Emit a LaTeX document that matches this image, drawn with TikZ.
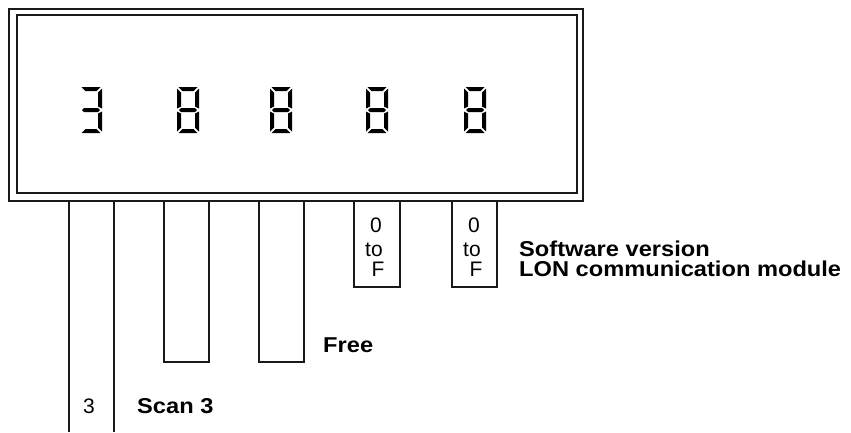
\documentclass[tikz,border=0pt]{standalone}
\usepackage{fontspec}
\setmainfont{Liberation Sans}
\newfontfamily\lblfont[FakeStretch=1.1]{Liberation Sans}
\newcommand\dsegA{\fill (1.5,0) -- (20.5,0) -- (16.5,4) -- (5.5,4) -- cycle;}
\newcommand\dsegB{\fill (22,1.5) -- (22,21.5) -- (18,19.5) -- (18,5.5) -- cycle;}
\newcommand\dsegC{\fill (22,24.5) -- (22,44.5) -- (18,40.5) -- (18,26.5) -- cycle;}
\newcommand\dsegD{\fill (1.5,46) -- (20.5,46) -- (16.5,42) -- (5.5,42) -- cycle;}
\newcommand\dsegE{\fill (0,24.5) -- (0,44.5) -- (4,40.5) -- (4,26.5) -- cycle;}
\newcommand\dsegF{\fill (0,1.5) -- (0,21.5) -- (4,19.5) -- (4,5.5) -- cycle;}
\newcommand\dsegG{\fill (2,23) -- (4,21) -- (18,21) -- (20,23) -- (18,25) -- (4,25) -- cycle;}
\newcommand\sevdigit[2]{\begin{scope}[shift={(#1,87)}]\foreach \s in {#2}{\csname dseg\s\endcsname}\end{scope}}
\begin{document}
\begin{tikzpicture}[x=1pt,y=-1pt,
  frame/.style={draw=black!90,line width=1.6pt},
  leg/.style={draw=black!90,line width=1.3pt},
  reg/.style={font=\fontsize{21}{25}\selectfont,inner sep=0pt,anchor=base,text height=15pt,text depth=0pt},
  lbl/.style={font=\lblfont\bfseries\fontsize{21.5}{25}\selectfont,inner sep=0pt,anchor=base west,text height=15pt,text depth=0pt}]
\useasboundingbox (0,0) rectangle (851,432);
% frames
\draw[frame] (9,9) rectangle (583,201);
\draw[frame] (17,15) rectangle (577,193);
% seven-segment digits
\sevdigit{80}{A,B,C,D,G}
\sevdigit{177}{A,B,C,D,E,F,G}
\sevdigit{270}{A,B,C,D,E,F,G}
\sevdigit{366}{A,B,C,D,E,F,G}
\sevdigit{464}{A,B,C,D,E,F,G}
% legs
\coordinate (l1a) at (69,201); \coordinate (l1b) at (69,432);
\coordinate (l1c) at (114,201); \coordinate (l1d) at (114,432);
\draw[leg] (l1a) -- (l1b);
\draw[leg] (l1c) -- (l1d);
\draw[leg] (164,201) -- (164,362) -- (209,362) -- (209,201);
\draw[leg] (259,201) -- (259,362) -- (304,362) -- (304,201);
\draw[leg] (354,201) -- (354,287) -- (400,287) -- (400,201);
\draw[leg] (452,201) -- (452,287) -- (497,287) -- (497,201);
% texts in boxes
\node[reg] (z1) at (376,232) {0};
\node[reg] (t1) at (374,256) {to};
\node[reg] (f1) at (378,276) {F};
\node[reg] (z2) at (474,232) {0};
\node[reg] (t2) at (472,256) {to};
\node[reg] (f2) at (476,276) {F};
\node[reg] (three) at (89,413) {3};
% labels
\node[lbl] (sw) at (519,256) {Software version};
\node[lbl] (lon) at (519,276) {LON communication module};
\node[lbl] (free) at (323,352) {Free};
\node[lbl] (scan) at (137,413) {Scan 3};
\end{tikzpicture}
\end{document}
